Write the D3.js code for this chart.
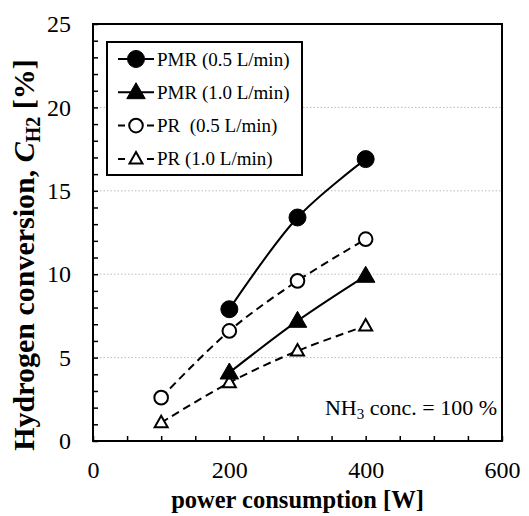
<!DOCTYPE html>
<html>
<head>
<meta charset="utf-8">
<script src="https://cdn.jsdelivr.net/npm/d3@7"></script>
<style>
  body { margin: 0; background: #fff; }
  svg { font-family: "Liberation Serif", "Times New Roman", serif; }
</style>
</head>
<body>
<svg id="chart" width="529" height="516"></svg>
<script>
const seriesNames = ["PMR (0.5 L/min)", "PMR (1.0 L/min)", "PR\u00a0\u00a0(0.5 L/min)", "PR (1.0 L/min)"];
const pmr05 = [[200, 7.9], [300, 13.4], [400, 16.9]];
const pmr10 = [[200, 4.1], [300, 7.2], [400, 9.9]];
const pr05 = [[100, 2.6], [200, 6.6], [300, 9.6], [400, 12.1]];
const pr10 = [[100, 1.1], [200, 3.5], [300, 5.4], [400, 6.9]];
const xTicks = [0, 200, 400, 600];
const yTicks = [0, 5, 10, 15, 20, 25];
const gridValues = [5, 10, 15, 20];

const series = [
    { name: seriesNames[0], data: pmr05, shape: "circle", filled: true, dashed: false },
    { name: seriesNames[1], data: pmr10, shape: "triangle", filled: true, dashed: false },
    { name: seriesNames[2], data: pr05, shape: "circle", filled: false, dashed: true },
    { name: seriesNames[3], data: pr10, shape: "triangle", filled: false, dashed: true }
];

const svg = d3.select("#chart");
const plotL = 93, plotR = 502, plotT = 24, plotB = 441;

const x = d3.scaleLinear().domain([0, 600]).range([plotL, plotR]);
const y = d3.scaleLinear().domain([0, 25]).range([plotB, plotT]);

// grid
svg.append("g")
    .selectAll("line")
    .data(gridValues)
    .enter().append("line")
    .attr("x1", plotL).attr("x2", plotR)
    .attr("y1", d => y(d)).attr("y2", d => y(d))
    .attr("stroke", "#bbb")
    .attr("stroke-width", 1)
    .attr("stroke-dasharray", "1.5,2");

// minor inward ticks
svg.append("g")
    .attr("transform", `translate(${plotL},0)`)
    .call(d3.axisRight(y).ticks(25).tickSize(5).tickFormat(""))
    .call(g => g.select(".domain").remove())
    .selectAll("line").attr("stroke", "#000").attr("stroke-width", 1.5);

svg.append("g")
    .attr("transform", `translate(0,${plotB})`)
    .call(d3.axisTop(x).tickValues(d3.range(0, 601, 50)).tickSize(5).tickFormat(""))
    .call(g => g.select(".domain").remove())
    .selectAll("line").attr("stroke", "#000").attr("stroke-width", 1.5);

// tick labels
svg.append("g")
    .attr("transform", `translate(${plotL - 22},0)`)
    .call(d3.axisLeft(y).tickValues(yTicks).tickSize(0).tickPadding(0))
    .call(g => g.select(".domain").remove())
    .selectAll("text")
    .attr("font-family", "Liberation Serif, serif")
    .attr("font-size", 24)
    .attr("fill", "#000");

svg.append("g")
    .attr("transform", `translate(0,${plotB + 20})`)
    .call(d3.axisBottom(x).tickValues(xTicks).tickSize(0).tickPadding(0))
    .call(g => g.select(".domain").remove())
    .selectAll("text")
    .attr("font-family", "Liberation Serif, serif")
    .attr("font-size", 24)
    .attr("fill", "#000");

// lines
const line = d3.line()
    .x(d => x(d[0]))
    .y(d => y(d[1]))
    .curve(d3.curveCatmullRom.alpha(0.5));

svg.append("g")
    .selectAll("path")
    .data(series)
    .enter().append("path")
    .attr("d", d => line(d.data))
    .attr("fill", "none")
    .attr("stroke", "#000")
    .attr("stroke-width", 2)
    .attr("stroke-dasharray", d => d.dashed ? "8,5" : null);

function drawMarker(g, s, cx, cy) {
    if (s.shape === "circle") {
        g.append("circle")
            .attr("cx", cx).attr("cy", cy)
            .attr("r", s.filled ? 8.5 : 6.8)
            .attr("fill", s.filled ? "#000" : "#fff")
            .attr("stroke", "#000")
            .attr("stroke-width", s.filled ? 1 : 2);
    } else {
        const h = s.filled ? 16 : 11.5, w = s.filled ? 18.5 : 13;
        g.append("path")
            .attr("d", `M${cx},${cy - h * 0.6}L${cx + w / 2},${cy + h * 0.4}L${cx - w / 2},${cy + h * 0.4}Z`)
            .attr("fill", s.filled ? "#000" : "#fff")
            .attr("stroke", "#000")
            .attr("stroke-width", s.filled ? 1 : 2)
            .attr("stroke-linejoin", "miter");
    }
}

const markers = svg.append("g");
series.slice().reverse().forEach(s => {
    s.data.forEach(d => drawMarker(markers, s, x(d[0]), y(d[1])));
});

// frame
svg.append("rect")
    .attr("x", plotL).attr("y", plotT)
    .attr("width", plotR - plotL).attr("height", plotB - plotT)
    .attr("fill", "none")
    .attr("stroke", "#000")
    .attr("stroke-width", 2);

// legend
const legend = svg.append("g");
legend.append("rect")
    .attr("x", 107).attr("y", 42)
    .attr("width", 195).attr("height", 133)
    .attr("fill", "#fff")
    .attr("stroke", "#000")
    .attr("stroke-width", 2);

series.forEach((s, i) => {
    const ly = 59 + i * 33.3;
    legend.append("line")
        .attr("x1", 118).attr("x2", 154)
        .attr("y1", ly).attr("y2", ly)
        .attr("stroke", "#000")
        .attr("stroke-width", 2)
        .attr("stroke-dasharray", s.dashed ? "7,22,7" : null);
    drawMarker(legend, s, 136, ly);
    legend.append("text")
        .attr("x", 157).attr("y", ly + 6.5)
        .attr("font-size", 19)
        .text(s.name);
});

// annotation
const note = svg.append("text")
    .attr("x", 497).attr("y", 415)
    .attr("text-anchor", "end")
    .attr("font-size", 22);
note.append("tspan").text("NH");
note.append("tspan").attr("font-size", 15).attr("dy", 4).text("3");
note.append("tspan").attr("dy", -4).text(" conc. = 100 %");

// axis titles
svg.append("text")
    .attr("x", (plotL + plotR) / 2).attr("y", 508)
    .attr("text-anchor", "middle")
    .attr("font-weight", "bold")
    .attr("font-size", 24.5)
    .text("power consumption [W]");

const yt = svg.append("text")
    .attr("transform", "translate(34,255) rotate(-90)")
    .attr("text-anchor", "middle")
    .attr("font-weight", "bold")
    .attr("font-size", 30);
yt.append("tspan").text("Hydrogen conversion, ");
yt.append("tspan").attr("font-style", "italic").text("C");
yt.append("tspan").attr("font-size", 20).attr("dy", 6).text("H2");
yt.append("tspan").attr("dy", -6).text(" [%]");
</script>
</body>
</html>
